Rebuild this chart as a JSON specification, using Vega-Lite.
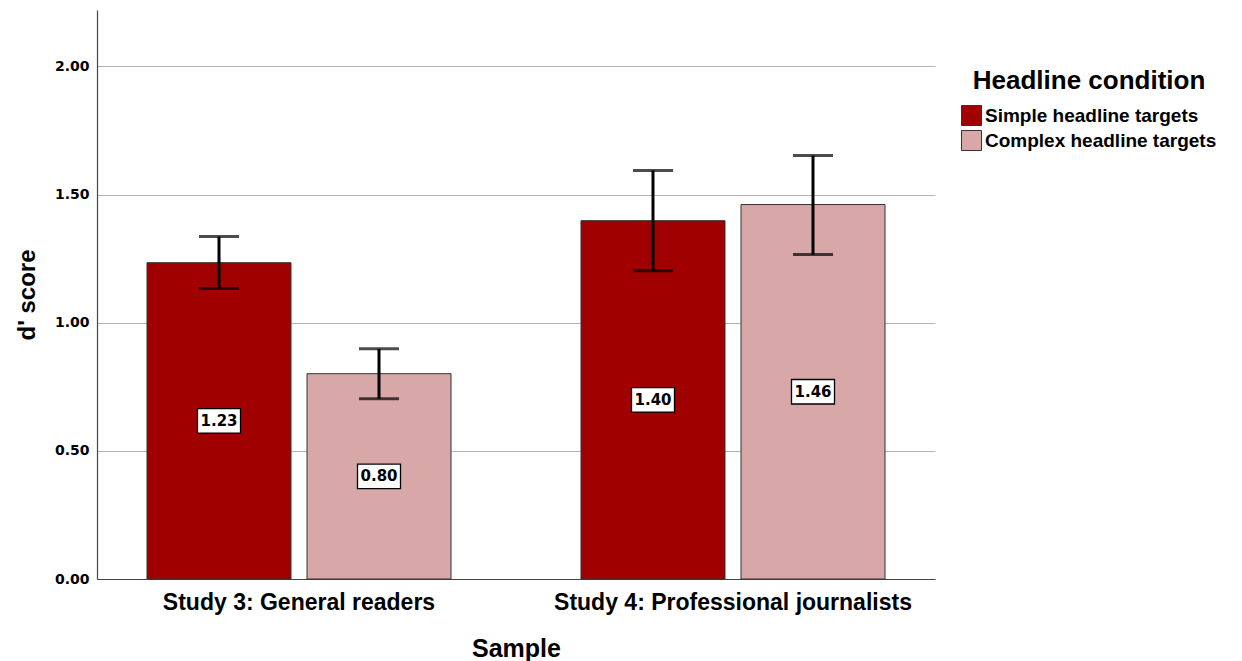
{
  "$schema": "https://vega.github.io/schema/vega-lite/v6.json",
  "width": 838,
  "height": 569,
  "autosize": {"type": "none"},
  "padding": {"left": 97, "top": 10, "right": 307, "bottom": 82},
  "background": "white",
  "config": {
    "view": {"stroke": null},
    "font": "Liberation Sans"
  },
  "data": {
    "values": [
      {"sample": "Study 3: General readers", "condition": "Simple headline targets", "mean": 1.234, "lo": 1.133, "hi": 1.336},
      {"sample": "Study 3: General readers", "condition": "Complex headline targets", "mean": 0.801, "lo": 0.703, "hi": 0.898},
      {"sample": "Study 4: Professional journalists", "condition": "Simple headline targets", "mean": 1.398, "lo": 1.203, "hi": 1.594},
      {"sample": "Study 4: Professional journalists", "condition": "Complex headline targets", "mean": 1.461, "lo": 1.266, "hi": 1.652}
    ]
  },
  "transform": [{"calculate": "datum.mean / 2", "as": "half"}],
  "encoding": {
    "x": {
      "field": "sample", "type": "nominal", "sort": null,
      "scale": {"paddingInner": 0.2995, "paddingOuter": 0.1152},
      "axis": {
        "title": "Sample", "labelAngle": 0, "ticks": false, "domainColor": "#444", "domainWidth": 1.2,
        "labelFont": "Liberation Sans", "labelFontSize": 23, "labelFontWeight": "bold", "labelColor": "#000", "labelPadding": 12, "labelLimit": 0,
        "titleFont": "Liberation Sans", "titleFontSize": 25, "titleFontWeight": "bold", "titleColor": "#000", "titlePadding": 22
      }
    },
    "xOffset": {
      "field": "condition", "type": "nominal",
      "sort": ["Simple headline targets", "Complex headline targets"],
      "scale": {"paddingInner": 0.1, "paddingOuter": 0}
    }
  },
  "layer": [
    {
      "mark": {"type": "bar", "stroke": "#333", "strokeWidth": 1},
      "encoding": {
        "y": {
          "field": "mean", "type": "quantitative",
          "scale": {"domain": [0, 2.22], "nice": false, "zero": true},
          "axis": {
            "title": "d' score", "values": [0, 0.5, 1, 1.5, 2], "format": ".2f", "ticks": false,
            "grid": true, "gridColor": "#b4b4b4", "gridWidth": 1.2,
            "domainColor": "#444", "domainWidth": 1.2,
            "labelFont": "DejaVu Sans", "labelFontSize": 14, "labelFontWeight": "bold", "labelColor": "#000", "labelPadding": 8,
            "titleFont": "Liberation Sans", "titleFontSize": 24, "titleFontWeight": "bold", "titleColor": "#000", "titlePadding": 15
          }
        },
        "color": {
          "field": "condition", "type": "nominal",
          "sort": ["Simple headline targets", "Complex headline targets"],
          "scale": {"domain": ["Simple headline targets", "Complex headline targets"], "range": ["#a00000", "#d8a7a8"]},
          "legend": {
            "title": "Headline condition", "orient": "none", "legendX": 864, "legendY": 58,
            "titleFontSize": 26, "titleFontWeight": "bold", "titleColor": "#000", "titleAnchor": "middle", "titlePadding": 11, "titleLimit": 0,
            "symbolType": "square", "symbolSize": 400, "symbolStrokeColor": "#333", "symbolStrokeWidth": 1, "symbolOpacity": 1,
            "labelFontSize": 19, "labelFontWeight": "bold", "labelColor": "#000", "labelOffset": 3, "rowPadding": 0, "labelLimit": 0
          }
        }
      }
    },
    {
      "mark": {"type": "rule", "color": "#000", "strokeWidth": 3},
      "encoding": {"y": {"field": "lo", "type": "quantitative"}, "y2": {"field": "hi"}}
    },
    {
      "mark": {"type": "tick", "color": "#000", "thickness": 3, "size": 40, "orient": "horizontal"},
      "encoding": {"y": {"field": "lo", "type": "quantitative"}}
    },
    {
      "mark": {"type": "tick", "color": "#000", "thickness": 3, "size": 40, "orient": "horizontal"},
      "encoding": {"y": {"field": "hi", "type": "quantitative"}}
    },
    {
      "mark": {"type": "point", "shape": "M-1,-0.57H1V0.57H-1Z", "size": 1849, "filled": true, "fill": "#fff", "stroke": "#000", "strokeWidth": 1.3, "opacity": 1},
      "encoding": {"y": {"field": "half", "type": "quantitative"}}
    },
    {
      "mark": {"type": "text", "font": "DejaVu Sans", "fontSize": 15, "fontWeight": "bold", "color": "#000", "baseline": "middle", "align": "center"},
      "encoding": {
        "y": {"field": "half", "type": "quantitative"},
        "text": {"field": "mean", "type": "quantitative", "format": ".2f"}
      }
    }
  ]
}
